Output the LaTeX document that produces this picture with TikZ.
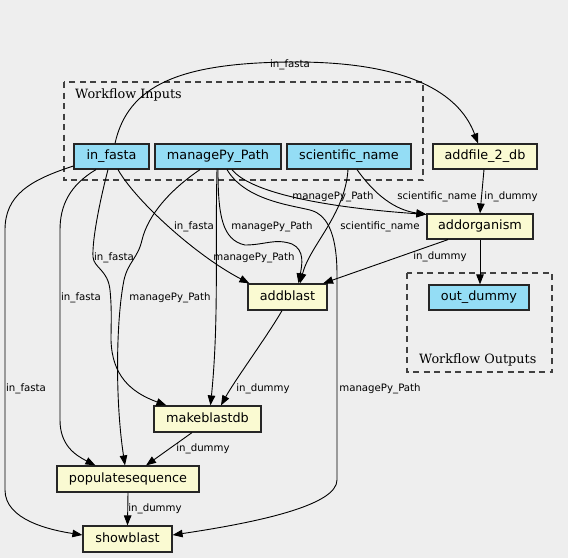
\documentclass[tikz,border=0pt]{standalone}
\usepackage{fontspec}
\setmainfont{DejaVu Serif}
\newfontfamily\dvs{DejaVu Sans}
\usetikzlibrary{arrows.meta,calc}
\definecolor{bgc}{HTML}{EEEEEE}
\definecolor{inblue}{HTML}{94DDF5}
\definecolor{procy}{HTML}{FAFAD2}
\begin{document}
\begin{tikzpicture}[x=1pt,y=-1pt,
  box/.style={draw=black!85, line width=1.2pt, minimum height=25pt, inner sep=0pt,
    font=\dvs\fontsize{12.8}{14}\selectfont, text height=9.3pt, text depth=2.6pt},
  inp/.style={box, fill=inblue},
  proc/.style={box, fill=procy},
  lbl/.style={font=\dvs\fontsize{10.2}{12}\selectfont, inner sep=0pt, text height=7.6pt, text depth=0pt},
  ctitle/.style={font=\fontsize{12.8}{14}\selectfont, inner sep=0pt, anchor=base west},
  edge/.style={line width=0.9pt, -{Triangle[length=10pt,width=7.5pt]}},
  cluster/.style={draw=black!75, dash pattern=on 6pt off 4.5pt, line width=1.1pt}
]
\fill[bgc] (0,0) rectangle (568,558);
\useasboundingbox (0,0) rectangle (568,558);

% clusters
\draw[cluster] (64,82) rectangle (423,180);
\node[ctitle] (tin) at (75,98) {Workflow Inputs};
\draw[cluster] (407,273) rectangle (552,372);
\node[ctitle] (tout) at (419,363) {Workflow Outputs};

% nodes
\node[inp, minimum width=75pt] (infasta) at (111.5,156.5) {in\_fasta};
\node[inp, minimum width=126pt] (manage) at (218,156.5) {managePy\_Path};
\node[inp, minimum width=124pt] (sci) at (349,156.5) {scientific\_name};
\node[proc, minimum width=104pt] (addfile) at (485,156.5) {addfile\_2\_db};
\node[proc, minimum width=106pt] (addorg) at (480,226.5) {addorganism};
\node[proc, minimum width=79pt, minimum height=26pt] (addblast) at (287.5,297) {addblast};
\node[inp, minimum width=100pt] (outdummy) at (479,297.5) {out\_dummy};
\node[proc, minimum width=107pt, minimum height=26pt] (makeblastdb) at (207.5,419) {makeblastdb};
\node[proc, minimum width=142pt, minimum height=26pt] (popseq) at (128,479) {populatesequence};
\node[proc, minimum width=89pt, minimum height=26pt] (showblast) at (127.5,539) {showblast};

% edges from in_fasta
\draw[edge] ([xshift=3.5pt]infasta.north) .. controls (128,85) and (180,63) .. (290,62)
  .. controls (420,61) and (462,100) .. ([xshift=-7pt]addfile.north);
\draw[edge] ([xshift=6.5pt]infasta.south) .. controls (135,200) and (195,255) .. ([xshift=2pt]addblast.north west);
\draw[edge] ([xshift=-3.5pt]infasta.south) .. controls (100,200) and (92,240) .. (93,257)
  .. controls (94,268) and (108,270) .. (110,290) .. controls (112,310) and (111,325) .. (111,340)
  .. controls (112,375) and (130,392) .. ([xshift=13pt]makeblastdb.north west);
\draw[edge] ([xshift=-15.5pt]infasta.south) .. controls (70,185) and (60,205) .. (60,230) -- (60,420)
  .. controls (60,445) and (75,455) .. ([xshift=39pt]popseq.north west);
\draw[edge] ([yshift=-9.5pt]infasta.west) .. controls (30,180) and (5,195) .. (5,230) -- (5,490)
  .. controls (5,520) and (50,530) .. ([yshift=4pt]showblast.west);

% edges from managePy_Path
\draw[edge] ([xshift=14pt]manage.south) .. controls (250,192) and (320,207) .. ([yshift=-1pt]addorg.north west);
\draw[edge] ([xshift=9pt]manage.south) .. controls (245,200) and (290,205) .. (310,210)
  .. controls (330,215) and (337,240) .. (337,275) -- (337,480)
  .. controls (337,505) and (260,522) .. ([yshift=4pt]showblast.east);
\draw[edge] (manage.south) .. controls (218,215) and (222,240) .. (245,245)
  .. controls (265,245) and (275,238) .. (292,244) .. controls (305,250) and (302,265) .. ([xshift=11pt]addblast.north);
\draw[edge] ([xshift=-1pt]manage.south) .. controls (215,250) and (219,320) .. ([xshift=3pt]makeblastdb.north);
\draw[edge] ([xshift=-18pt]manage.south) .. controls (170,190) and (148,215) .. (142,240)
  .. controls (138,258) and (128,262) .. (124,280) .. controls (116,320) and (115,400) .. ([xshift=-3pt]popseq.north);

% edges from scientific_name
\draw[edge] ([xshift=8pt]sci.south) .. controls (375,195) and (395,210) .. ([yshift=-1pt]addorg.north west);
\draw[edge] ([xshift=-1pt]sci.south) .. controls (345,215) and (310,245) .. ([xshift=12.5pt]addblast.north);

% process edges
\draw[edge] ([xshift=-1pt]addfile.south) -- (addorg.north);
\draw[edge] ([xshift=-32pt]addorg.south) -- ([xshift=-4.5pt]addblast.north east);
\draw[edge] (addorg.south) -- (addorg.south |- outdummy.north);
\draw[edge] ([xshift=-5.5pt]addblast.south) .. controls (268,335) and (235,380) .. ([xshift=13.5pt]makeblastdb.north);
\draw[edge] ([xshift=-15.5pt]makeblastdb.south) -- ([xshift=18pt]popseq.north);
\draw[edge] (popseq.south) -- (showblast.north);

% labels
\node[lbl] (l1) at (290,64) {in\_fasta};
\node[lbl] (l2) at (194,226) {in\_fasta};
\node[lbl] (l3) at (114,257) {in\_fasta};
\node[lbl] (l4) at (81,297) {in\_fasta};
\node[lbl] (l5) at (26,388) {in\_fasta};
\node[lbl] (m1) at (333,196) {managePy\_Path};
\node[lbl] (m2) at (272,226) {managePy\_Path};
\node[lbl] (m3) at (254,257) {managePy\_Path};
\node[lbl] (m4) at (170,297) {managePy\_Path};
\node[lbl] (m5) at (380,388) {managePy\_Path};
\node[lbl] (s1) at (437,196) {scientific\_name};
\node[lbl] (s2) at (380,226) {scientific\_name};
\node[lbl] (d1) at (511,196) {in\_dummy};
\node[lbl] (d2) at (440,256) {in\_dummy};
\node[lbl] (d3) at (263,388) {in\_dummy};
\node[lbl] (d4) at (203,448) {in\_dummy};
\node[lbl] (d5) at (155,508) {in\_dummy};
\end{tikzpicture}
\end{document}
